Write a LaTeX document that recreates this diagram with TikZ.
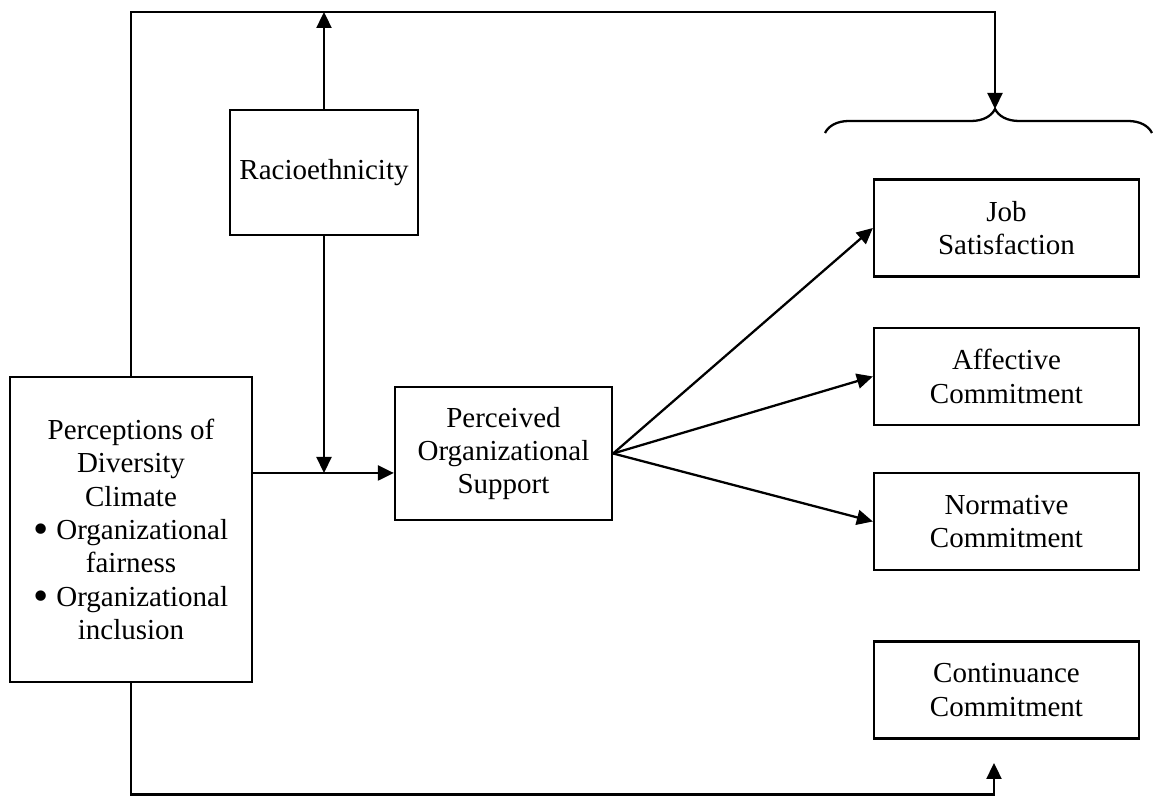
\documentclass[tikz,border=0pt]{standalone}
\usepackage{fontspec}
\setmainfont{Liberation Serif}
\usetikzlibrary{positioning}
\usetikzlibrary{arrows.meta}
\usetikzlibrary{decorations.pathreplacing}

\newcommand{\bigdot}{\raisebox{-0.3ex}{\scalebox{1.5}{\textbullet}}}

\begin{document}
\begin{tikzpicture}[
    box/.style={draw=black, line width=1.3pt, align=center, inner sep=0pt,
        font=\fontsize{16.5}{19}\selectfont},
    arr/.style={-{Triangle[length=0.32cm, width=0.3cm]}, line width=1.3pt},
    ]
        \useasboundingbox (0,0) rectangle (23.08,15.94);

        \node[box, minimum width=4.84cm, minimum height=6.1cm]
        (perc) at (2.62,5.35) {Perceptions of\\Diversity\\Climate\\
        \bigdot{} Organizational\\fairness\\
        \bigdot{} Organizational\\inclusion};

        \node[box, minimum width=3.76cm, minimum height=2.5cm]
        (racio) at (6.48,12.49) {Racioethnicity};

        \node[box, minimum width=4.34cm, minimum height=2.66cm]
        (pos) at (10.07,6.87) {Perceived\\Organizational\\Support};

        \foreach \n/\y/\t in {job/11.38/{Job\\Satisfaction},
            aff/8.41/{Affective\\Commitment},
            norm/5.51/{Normative\\Commitment},
            cont/2.14/{Continuance\\Commitment}}
        {
            \node[box, minimum width=5.3cm, minimum height=1.94cm]
            (\n) at (20.13,\y) {\t};
        }

        % brace over the outcomes
        \draw[line width=1.3pt, decorate,
        decoration={brace, amplitude=0.48cm, aspect=0.52}]
        (16.5,13.28) -- (23.04,13.28);

        \coordinate (brtip) at (19.9,13.76);
        \coordinate (topr) at (19.9,15.7);
        \coordinate (mid) at (6.48,6.48);
        \coordinate (botr) at (19.88,0.05);
        \coordinate (contin) at (19.88,0.68);

        \draw[arr] (perc.north) |- (topr) -- (brtip);
        \draw[arr] (racio.north) -- (racio.north |- topr);
        \draw[arr] (racio.south) -- (racio.south |- mid);
        \draw[arr] (perc.east |- mid) -- (pos.west |- mid);

        \foreach \n in {job, aff, norm}
        {
            \draw[arr] (pos.east) -- (\n.west);
        }

        \draw[arr] (perc.south) |- (botr) -- (contin);
    \end{tikzpicture}
\end{document}
